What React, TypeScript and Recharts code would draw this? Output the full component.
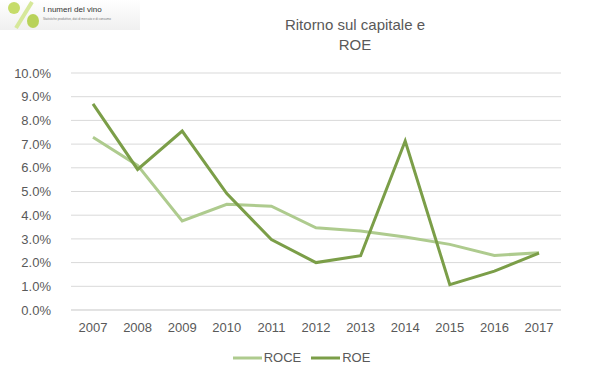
import React from "react";
import { LineChart, Line, XAxis, YAxis, CartesianGrid, Legend } from "recharts";

const years = ["2007", "2008", "2009", "2010", "2011", "2012", "2013", "2014", "2015", "2016", "2017"];
const roce = [7.29, 6.1, 3.76, 4.46, 4.38, 3.47, 3.33, 3.08, 2.77, 2.3, 2.42];
const roe = [8.7, 5.93, 7.55, 4.91, 2.97, 2.0, 2.29, 7.13, 1.07, 1.64, 2.4];
const yTicks = [0, 1, 2, 3, 4, 5, 6, 7, 8, 9, 10];

const data = years.map((y, i) => ({ year: y, ROCE: roce[i], ROE: roe[i] }));

const FONT = "'Liberation Sans', Arial, sans-serif";
const TEXT = "#595959";

const renderLegend = (props: any) => {
  const { payload } = props;
  return (
    <div style={{ display: "flex", justifyContent: "center", gap: 10, paddingTop: 10, paddingLeft: 4, fontFamily: FONT, fontSize: 13, color: TEXT }}>
      {payload.map((p: any) => (
        <div key={p.value} style={{ display: "flex", alignItems: "center" }}>
          <svg width={29} height={6} style={{ marginRight: 2 }}>
            <line x1={0} y1={3} x2={29} y2={3} stroke={p.color} strokeWidth={3} />
          </svg>
          <span>{p.value}</span>
        </div>
      ))}
    </div>
  );
};

export default function App() {
  return (
    <div style={{ position: "absolute", left: 0, top: 0, width: 599, height: 378, background: "#fff", fontFamily: FONT }}>
      <div style={{ position: "absolute", left: 0, top: 0, width: 140, height: 30, background: "linear-gradient(#ffffff, #f0f0f0)" }}>
        <svg width={40} height={30} style={{ position: "absolute", left: 2, top: 0 }}>
          <circle cx={12} cy={8} r={6} fill="#c6dc6a" />
          <line x1={30} y1={2} x2={14} y2={28} stroke="#d6e89a" strokeWidth={4} />
          <ellipse cx={31} cy={21} rx={6} ry={7} fill="#b8d25a" />
        </svg>
        <div style={{ position: "absolute", left: 43, top: 5, fontSize: 8, color: "#333", whiteSpace: "nowrap" }}>I numeri del vino</div>
        <div style={{ position: "absolute", left: 43, top: 17, fontSize: 3, color: "#777", whiteSpace: "nowrap" }}>
          Statistiche produttive, dati di mercato e di consumo
        </div>
      </div>
      <div style={{ position: "absolute", left: 255, width: 200, top: 15, textAlign: "center", fontSize: 15, lineHeight: "20px", color: TEXT }}>
        Ritorno sul capitale e<br />ROE
      </div>
      <LineChart width={599} height={378} data={data} margin={{ top: 73, right: 38, left: 0, bottom: 12 }}>
        <CartesianGrid vertical={false} stroke="#d9d9d9" />
        <XAxis
          dataKey="year"
          tickLine={false}
          axisLine={{ stroke: "#d9d9d9" }}
          tick={{ fill: TEXT, fontSize: 13, fontFamily: FONT }}
          tickMargin={7}
          height={30}
          padding={{ left: 22, right: 22 }}
        />
        <YAxis
          domain={[0, 10]}
          ticks={yTicks}
          interval={0}
          tickFormatter={(v: number) => v.toFixed(1) + "%"}
          axisLine={false}
          tickLine={false}
          width={71}
          tickMargin={14}
          tick={{ fill: TEXT, fontSize: 13, fontFamily: FONT }}
        />
        <Legend verticalAlign="bottom" height={26} content={renderLegend} wrapperStyle={{ left: 0, width: 599 }} />
        <Line type="linear" dataKey="ROCE" stroke="#aecb8e" strokeWidth={3} dot={false} isAnimationActive={false} />
        <Line type="linear" dataKey="ROE" stroke="#7b9e48" strokeWidth={3} dot={false} isAnimationActive={false} />
      </LineChart>
    </div>
  );
}
